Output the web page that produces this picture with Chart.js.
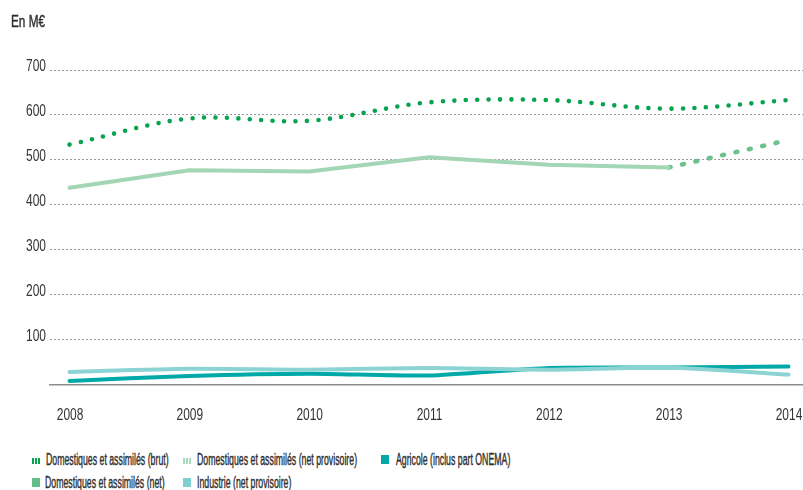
<!DOCTYPE html>
<html>
<head>
<meta charset="utf-8">
<script src="https://cdn.jsdelivr.net/npm/chart.js@4/dist/chart.umd.min.js"></script>
<style>
    body { margin: 0; background: #fff; font-family: 'Liberation Sans', Arial, sans-serif; color: #2e2e2e; }
    #wrap { position: relative; width: 803px; height: 490px; overflow: hidden; }
    #chart-box { position: absolute; left: 0; top: 0; width: 803px; height: 430px; }
    .txt { position: absolute; font-size: 16px; line-height: 16px; white-space: nowrap; transform-origin: 0 0; -webkit-text-stroke: 0.4px #2e2e2e; }
    .ic { position: absolute; }
</style>
</head>
<body>
<div id="wrap">
    <div id="chart-box"><canvas id="c"></canvas></div>
    <div id="legend"></div>
</div>
<script>
// --- Data ---
const years = [2008, 2009, 2010, 2011, 2012, 2013, 2014];
const domBrut = [534, 592, 587, 628, 633, 614, 633];
const domNet = [438, 477, 474, 506, 489, 483, null];
const domNetProv = [null, null, null, null, null, 483, 544];
const agricole = [8, 19, 24, 20, 37, 38, 40];
const industrie = [28, 35, 33, 37, 33, 38, 22];
const yTicks = [100, 200, 300, 400, 500, 600, 700];
const unitLabel = 'En M€';

const FONT = "'Liberation Sans', Arial, sans-serif";

// the original uses a very condensed face: squeeze a regular one to the same width
const meter = document.createElement('canvas').getContext('2d');
meter.font = `16px ${FONT}`;
const SQ = 26.6 / meter.measureText('2008').width;

const pts = arr => arr.map((v, i) => ({ x: years[i], y: v }));

const series = [
    { label: 'Domestiques et assimilés (brut)', data: domBrut, color: '#08a34f', legend: '#08a34f', dash: [0, 11.45], width: 4.6, tension: 0.35, icon: 'bars' },
    { label: 'Domestiques et assimilés (net)', data: domNet, color: '#a2d6b4', legend: '#62bf88', dash: [], width: 4, tension: 0, icon: 'sq' },
    { label: 'Domestiques et assimilés (net provisoire)', data: domNetProv, color: '#6cc18e', legend: '#a9dab9', dash: [2, 11.7], width: 4.6, tension: 0, icon: 'bars' },
    { label: 'Industrie (net provisoire)', data: industrie, color: '#8cd4d4', legend: '#7fcfd3', dash: [], width: 4, tension: 0.2, icon: 'sq' },
    { label: 'Agricole (inclus part ONEMA)', data: agricole, color: '#00a9a8', legend: '#00a9a8', dash: [], width: 4, tension: 0.2, icon: 'sq' }
];
const LSQ = 122.6 / meter.measureText(series[0].label).width;
const USQ = 34 / meter.measureText(unitLabel).width;

// legend slots in the reference's order: icon x, text x, baseline y
const legendOrder = [
    { idx: 0, ix: 32, tx: 46, by: 465 },
    { idx: 2, ix: 183, tx: 197, by: 465 },
    { idx: 4, ix: 381, tx: 396, by: 465 },
    { idx: 1, ix: 32, tx: 45, by: 488 },
    { idx: 3, ix: 183, tx: 197, by: 488 }
];

function bars(color, x, y) {
    return [0, 3, 6].map(d =>
        `<div class="ic" style="left:${x + d}px;top:${y}px;width:2px;height:6px;background:${color}"></div>`).join('');
}

document.getElementById('legend').innerHTML = legendOrder.map(o => {
    const s = series[o.idx];
    const icon = s.icon === 'bars'
        ? bars(s.legend, o.ix, o.by - 7)
        : `<div class="ic" style="left:${o.ix}px;top:${o.by - 10}px;width:8px;height:9px;background:${s.legend}"></div>`;
    return icon + `<div class="txt" style="left:${o.tx}px;top:${o.by - 13.5}px;transform:scaleX(${LSQ})">${s.label}</div>`;
}).join('') + `<div class="txt" style="left:11px;top:${27 - 13.5}px;transform:scaleX(${USQ})">${unitLabel}</div>`;

function drawCond(ctx, text, x, y, align) {
    ctx.save();
    ctx.translate(x, y);
    ctx.scale(SQ, 1);
    ctx.textAlign = align;
    ctx.fillText(text, 0, 0);
    ctx.restore();
}

// tick labels drawn squeezed, at the scales' own pixel positions
const condensedTicks = {
    id: 'condensedTicks',
    afterDraw(chart) {
        const { ctx, scales: { x, y } } = chart;
        ctx.save();
        ctx.font = `16px ${FONT}`;
        ctx.fillStyle = '#333';
        ctx.textBaseline = 'alphabetic';
        x.ticks.forEach(t => drawCond(ctx, String(t.value), x.getPixelForValue(t.value) + 0.5, 420, 'center'));
        y.ticks.forEach(t => {
            if (!t.value) return;
            drawCond(ctx, String(t.value), 46, y.getPixelForValue(t.value) + 1, 'right');
        });
        ctx.restore();
    }
};

new Chart(document.getElementById('c'), {
    type: 'line',
    data: {
        datasets: series.map(s => ({
            label: s.label,
            data: pts(s.data),
            borderColor: s.color,
            borderWidth: s.width,
            borderDash: s.dash,
            borderCapStyle: 'round',
            tension: s.tension,
            pointRadius: 0,
            fill: false,
            spanGaps: false
        }))
    },
    plugins: [condensedTicks],
    options: {
        responsive: true,
        maintainAspectRatio: false,
        animation: false,
        layout: { padding: { top: 70, right: 0, left: 0, bottom: 0 } },
        plugins: { legend: { display: false }, tooltip: { enabled: false } },
        scales: {
            x: {
                type: 'linear',
                min: 2007.837,
                max: 2014.121,
                afterBuildTicks: scale => { scale.ticks = years.map(v => ({ value: v })); },
                afterFit: scale => { scale.height = 45.5; },
                grid: { display: false },
                border: { display: true, color: '#8c8c8c', width: 1.5 },
                ticks: { display: false }
            },
            y: {
                min: 0,
                max: 700,
                afterBuildTicks: scale => { scale.ticks = [0].concat(yTicks).map(v => ({ value: v })); },
                afterFit: scale => { scale.width = 50; },
                grid: { color: ctx => ctx.tick && ctx.tick.value === 0 ? 'rgba(0,0,0,0)' : '#9a9a9a', lineWidth: 1, drawTicks: false },
                border: { display: false, dash: [2, 2] },
                ticks: { display: false }
            }
        }
    }
});
</script>
</body>
</html>
